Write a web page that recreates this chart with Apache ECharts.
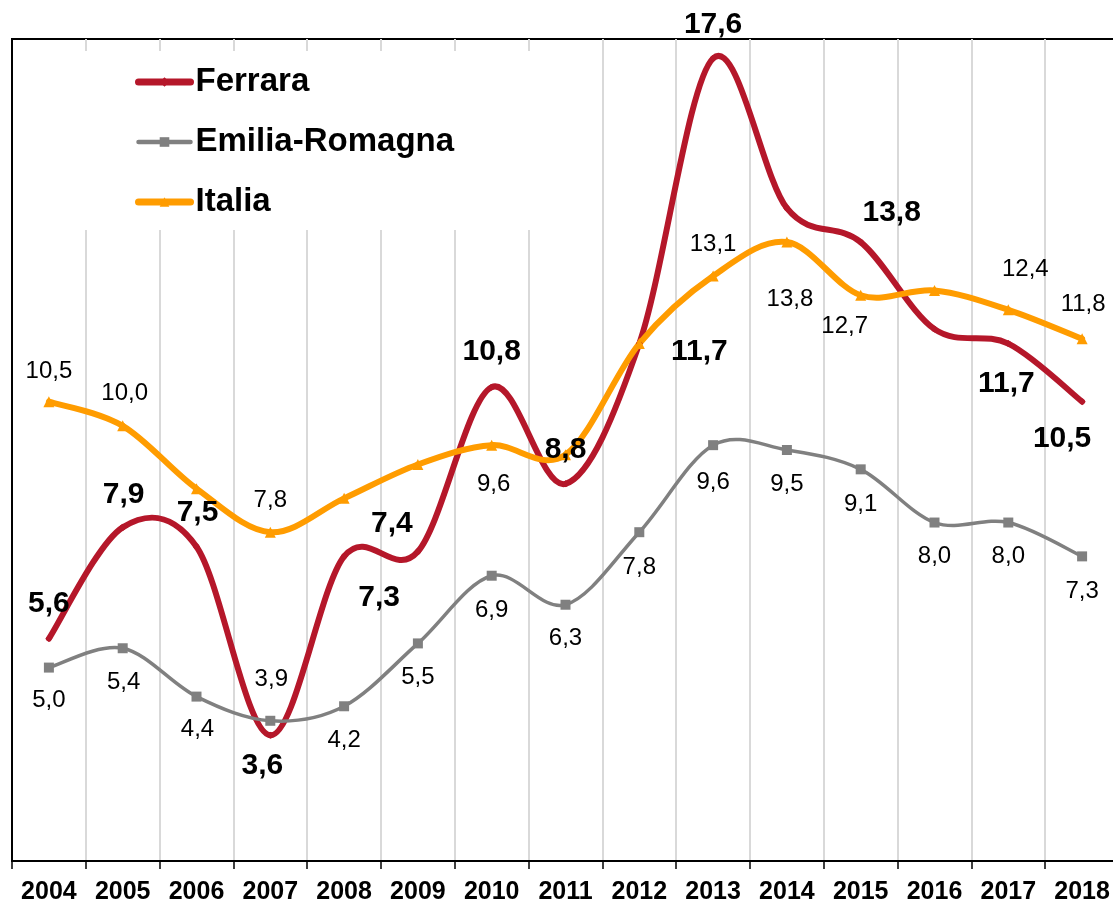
<!DOCTYPE html>
<html>
<head>
<meta charset="utf-8">
<title>Ferrara / Emilia-Romagna / Italia</title>
<script src="https://cdn.jsdelivr.net/npm/echarts@6/dist/echarts.min.js"></script>
<style>
  html, body { margin: 0; padding: 0; background: #fff; overflow: hidden; }
  /* plot area runs a few pixels past the right edge, as in the original */
  #chart { width: 1125px; height: 905px; }
</style>
</head>
<body>
<div id="chart"></div>
<script>
// data
const years = ['2004', '2005', '2006', '2007', '2008', '2009', '2010', '2011',
  '2012', '2013', '2014', '2015', '2016', '2017', '2018'];
const ferrara = [5.6, 7.9, 7.5, 3.6, 7.3, 7.4, 10.8, 8.8, 11.7, 17.6, 14.5, 13.8, 12.0, 11.7, 10.5];
const emiliaRomagna = [5.0, 5.4, 4.4, 3.9, 4.2, 5.5, 6.9, 6.3, 7.8, 9.6, 9.5, 9.1, 8.0, 8.0, 7.3];
const italia = [10.5, 10.0, 8.7, 7.8, 8.5, 9.2, 9.6, 9.4, 11.7, 13.1, 13.8, 12.7, 12.8, 12.4, 11.8];

// label placement (offset of label centre from the point, null = no label)
const ferraraLabelOffsets = [[0, -35], [1, -33], [1, -34], [-8, 30], [35, 41], [-26, -28], [0, -35],
  [0, -34], [60, 8], [0, -34], null, [31, -29], null, [-2, 40], [-20, 37]];
const erLabelOffsets = [[0, 33], [1, 34], [1, 33], [1, -41], [0, 34], [0, 34], [0, 35], [0, 34],
  [0, 35], [0, 37], [0, 34], [0, 35], [0, 34], [0, 34], [0, 35]];
const italiaLabelOffsets = [[0, -30], [2, -32], null, [0, -32], null, null, [2, 39], null,
  null, [0, -32], [3, 57], [-16, 31], null, [17, -40], [1, -34]];

const FONT = '"Liberation Sans", Arial, sans-serif';
const RED = '#B5172A';
const GREY = '#808080';
const ORANGE = '#FF9C00';

function fmt(v) {
  return v.toFixed(1).replace('.', ',');
}

function buildData(values, offsets) {
  return values.map((v, i) => ({
    value: v,
    label: offsets[i] ? { show: true, offset: offsets[i] } : { show: false }
  }));
}

// Excel-style smoothed line: each point draws a Catmull-Rom segment to the next one,
// positions come from the axes via api.coord
function curveSeries(name, values, color, width) {
  return {
    name: name + ' (curve)',
    type: 'custom',
    data: values,
    silent: true,
    renderItem: function (params, api) {
      const i = params.dataIndex;
      if (i >= values.length - 1) return null;
      const last = values.length - 1;
      const p0 = api.coord([Math.max(i - 1, 0), values[Math.max(i - 1, 0)]]);
      const p1 = api.coord([i, values[i]]);
      const p2 = api.coord([i + 1, values[i + 1]]);
      const p3 = api.coord([Math.min(i + 2, last), values[Math.min(i + 2, last)]]);
      return {
        type: 'bezierCurve',
        shape: {
          x1: p1[0], y1: p1[1],
          x2: p2[0], y2: p2[1],
          cpx1: p1[0] + (p2[0] - p0[0]) / 6,
          cpy1: p1[1] + (p2[1] - p0[1]) / 6,
          cpx2: p2[0] - (p3[0] - p1[0]) / 6,
          cpy2: p2[1] - (p3[1] - p1[1]) / 6
        },
        style: { fill: null, stroke: color, lineWidth: width, lineCap: 'round', lineJoin: 'round' }
      };
    }
  };
}

// markers and data labels
function pointSeries(name, values, offsets, color, symbol, symbolSize, bold) {
  return {
    name: name,
    type: 'line',
    data: buildData(values, offsets),
    symbol: symbol,
    symbolSize: symbolSize,
    showAllSymbol: true,
    lineStyle: { color: color, opacity: 0 },
    itemStyle: { color: color },
    emphasis: { disabled: true },
    label: {
      position: 'inside',
      align: 'center',
      verticalAlign: 'middle',
      color: '#000',
      fontFamily: FONT,
      fontSize: bold ? 30 : 24,
      fontWeight: bold ? 'bold' : 'normal',
      formatter: p => fmt(p.value)
    }
  };
}

const chart = echarts.init(document.getElementById('chart'));

const option = {
  animation: false,
  backgroundColor: '#fff',
  grid: {
    left: 12,
    top: 39,
    width: 1107,
    height: 823.5,
    show: true,
    borderColor: '#000',
    borderWidth: 2,
    backgroundColor: 'transparent'
  },
  legend: {
    orient: 'vertical',
    left: 20,
    top: 51,
    padding: [14, 88, 11, 115],
    backgroundColor: '#fff',
    itemWidth: 52,
    itemHeight: 12,
    itemGap: 26,
    textStyle: {
      fontFamily: FONT,
      fontSize: 33,
      fontWeight: 'bold',
      color: '#000',
      lineHeight: 34
    },
    data: [
      { name: 'Ferrara', lineStyle: { width: 7, cap: 'round', color: RED, opacity: 1 } },
      { name: 'Emilia-Romagna', lineStyle: { width: 4.5, cap: 'round', color: GREY, opacity: 1 } },
      { name: 'Italia', lineStyle: { width: 7, cap: 'round', color: ORANGE, opacity: 1 } }
    ]
  },
  xAxis: {
    type: 'category',
    data: years,
    boundaryGap: true,
    axisLine: { lineStyle: { color: '#000', width: 2 } },
    axisTick: { show: true, length: 8, lineStyle: { color: '#000', width: 1.5 } },
    splitLine: { show: true, lineStyle: { color: '#d9d9d9', width: 2 } },
    axisLabel: {
      interval: 0,
      margin: 19,
      color: '#000',
      fontFamily: FONT,
      fontSize: 25,
      fontWeight: 'bold'
    }
  },
  yAxis: {
    type: 'value',
    min: 1,
    max: 18,
    axisLine: { show: true, lineStyle: { color: '#000', width: 2 } },
    axisTick: { show: false },
    axisLabel: { show: false },
    splitLine: { show: false }
  },
  series: [
    curveSeries('Ferrara', ferrara, RED, 6),
    pointSeries('Ferrara', ferrara, ferraraLabelOffsets, RED, 'diamond', 7, true),
    curveSeries('Emilia-Romagna', emiliaRomagna, GREY, 3.5),
    pointSeries('Emilia-Romagna', emiliaRomagna, erLabelOffsets, GREY, 'rect', 10, false),
    curveSeries('Italia', italia, ORANGE, 6),
    pointSeries('Italia', italia, italiaLabelOffsets, ORANGE, 'triangle', 11, false)
  ]
};

chart.setOption(option);
</script>
</body>
</html>
